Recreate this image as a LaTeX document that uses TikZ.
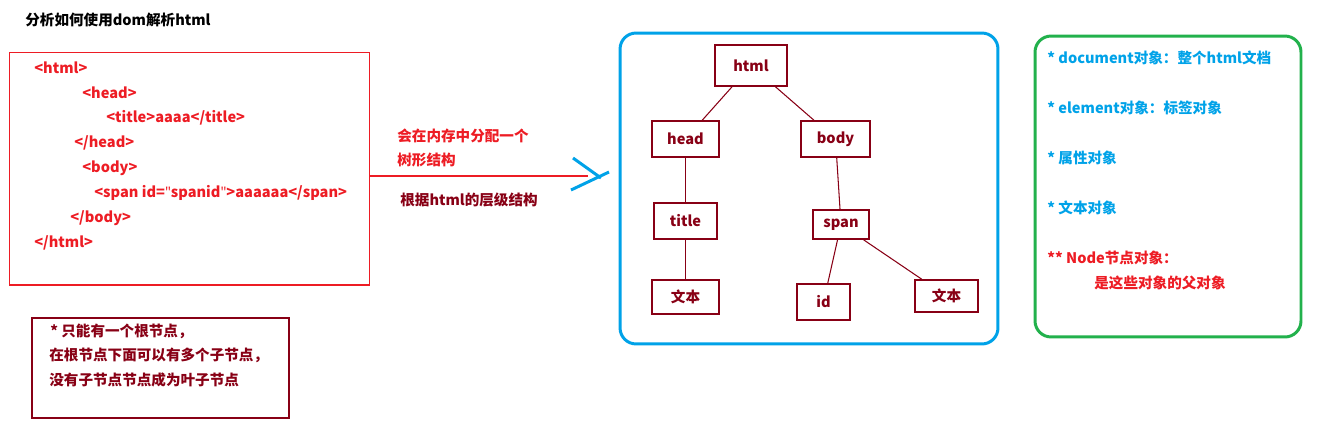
\documentclass[tikz,border=0pt]{standalone}
\usepackage{fontspec}
\setmainfont{Noto Sans CJK SC}
\newfontfamily\latinfont{Noto Sans}
\usetikzlibrary{positioning}
\definecolor{codered}{RGB}{237,28,36}
\definecolor{darkred}{RGB}{136,0,21}
\definecolor{skyblue}{RGB}{0,162,232}
\definecolor{leafgreen}{RGB}{34,177,76}
\newcommand{\dq}{{\latinfont\char"22}}
\begin{document}
\begin{tikzpicture}[
        x=0.02cm, y=-0.02cm,
        txt/.style={anchor=west, inner sep=0pt, font=\fontsize{8.3}{10}\selectfont\bfseries},
        code/.style={txt, text=codered},
        elem/.style={rectangle, draw=darkred, line width=0.9pt, text=darkred, inner sep=0pt, font=\fontsize{8.3}{10}\selectfont\bfseries},
        link/.style={draw=darkred, line width=0.6pt},
        frame/.style={rectangle, line width=1.7pt, rounded corners=0.32cm}
    ]
        \useasboundingbox (0,0) rectangle (1324,447);

        \node[txt] (title) at (25,20) {分析如何使用dom解析html};

        % html source
        \node[rectangle, draw=codered, line width=0.6pt, minimum width=7.22cm, minimum height=4.66cm] (codebox) at (189.5,168.5) {};
        \node[code] (l1) at (34,68) {<html>};
        \node[code] (l2) at (82,93) {<head>};
        \node[code] (l3) at (106,118) {<title>aaaa</title>};
        \node[code] (l4) at (74,143) {</head>};
        \node[code] (l5) at (82,168) {<body>};
        \node[code] (l6) at (94,193) {<span id=\dq spanid\dq>aaaaaa</span>};
        \node[code] (l7) at (70,218) {</body>};
        \node[code] (l8) at (34,243) {</html>};

        % arrow to the tree
        \coordinate (lineend) at (588,176);
        \draw[codered, line width=0.6pt] (codebox.east |- lineend) -- (lineend);
        \draw[skyblue, line width=1.7pt] (573,158) -- (601,178) (571,190) -- (609,172);
        \node[code] (alloc) at (397,136) {会在内存中分配一个};
        \node[code] (shape) at (397,160) {树形结构};
        \node[txt, text=darkred] (level) at (400,200) {根据html的层级结构};

        % dom tree
        \node[frame, draw=skyblue, minimum width=7.56cm, minimum height=6.22cm] (treebox) at (809,188.5) {};
        \node[elem, minimum width=1.44cm, minimum height=0.82cm] (html) at (751,65.5) {html};
        \node[elem, minimum width=1.34cm, minimum height=0.72cm] (head) at (685.5,139) {head};
        \node[elem, minimum width=1.38cm, minimum height=0.72cm] (body) at (835.5,139) {body};
        \node[elem, minimum width=1.26cm, minimum height=0.72cm] (ttl) at (685.5,221) {title};
        \node[elem, minimum width=1.12cm, minimum height=0.58cm] (span) at (841,224.5) {span};
        \node[elem, minimum width=1.34cm, minimum height=0.68cm] (textA) at (685.5,297) {文本};
        \node[elem, minimum width=1.06cm, minimum height=0.72cm] (id) at (823.5,302) {id};
        \node[elem, minimum width=1.26cm, minimum height=0.64cm] (textB) at (946.5,296) {文本};
        \draw[link] (html) -- (head);
        \draw[link] (html) -- (body);
        \draw[link] (head) -- (ttl);
        \draw[link] (ttl) -- (textA);
        \draw[link] (body) -- (span);
        \draw[link] (span) -- (id);
        \draw[link] (span) -- (textB);

        % object kinds
        \node[frame, draw=leafgreen, minimum width=5.32cm, minimum height=6.02cm] (kindbox) at (1168,186.5) {};
        \node[txt, text=skyblue] (doc) at (1047,58) {* document对象：整个html文档};
        \node[txt, text=skyblue] (elm) at (1047,108) {* element对象：标签对象};
        \node[txt, text=skyblue] (attr) at (1047,158) {* 属性对象};
        \node[txt, text=skyblue] (txtobj) at (1047,208) {* 文本对象};
        \node[txt, text=codered] (nodeobj) at (1047,258) {** Node节点对象：};
        \node[txt, text=codered] (parent) at (1094,283) {是这些对象的父对象};

        % note
        \node[rectangle, draw=darkred, line width=0.6pt, minimum width=5.14cm, minimum height=2cm] (notebox) at (160.5,368) {};
        \node[txt, text=darkred] (n1) at (50,331) {* 只能有一个根节点，};
        \node[txt, text=darkred] (n2) at (49,355) {在根节点下面可以有多个子节点，};
        \node[txt, text=darkred] (n3) at (49,380) {没有子节点节点成为叶子节点};
    \end{tikzpicture}
\end{document}
